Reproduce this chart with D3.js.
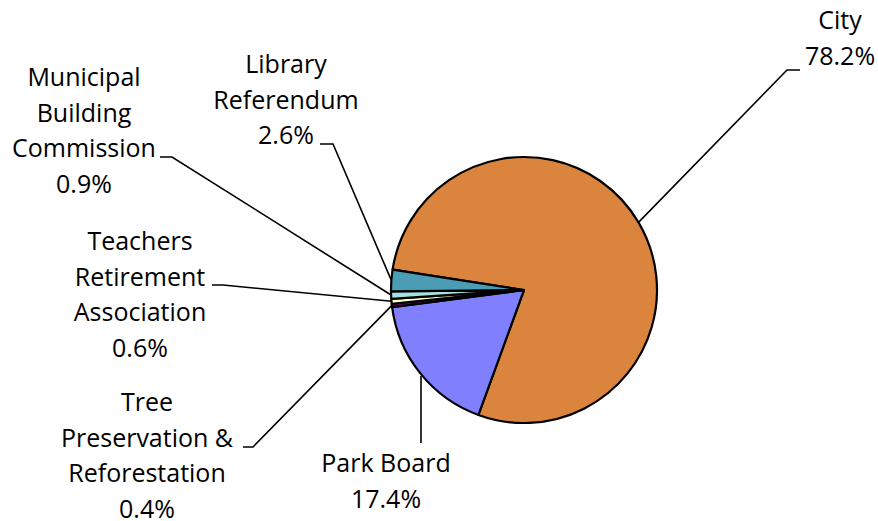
<!DOCTYPE html>
<html>
<head>
<meta charset="utf-8">
<script src="https://cdn.jsdelivr.net/npm/d3@7/dist/d3.min.js"></script>
<style>
  html, body { margin: 0; padding: 0; background: #fff; }
  svg { display: block; }
  text { font-family: "Open Sans", Lato, sans-serif; font-size: 25px; fill: #000; }
</style>
</head>
<body>
<svg id="chart" width="878" height="521"></svg>
<script>
// Budget share by fund (percent)
const categories = ["City", "Park Board", "Tree Preservation & Reforestation",
  "Teachers Retirement Association", "Municipal Building Commission", "Library Referendum"];
const shares = [78.2, 17.4, 0.4, 0.6, 0.9, 2.6];
const labelLines = [
  ["City"],
  ["Park Board"],
  ["Tree", "Preservation &", "Reforestation"],
  ["Teachers", "Retirement", "Association"],
  ["Municipal", "Building", "Commission"],
  ["Library", "Referendum"]
];
const colors = ["#DA843E", "#8080FF", "#660066", "#FFFFC8", "#A6E2E2", "#4A9DB3"];

// Label placement: centre x, first baseline, and the leader's elbow / end points
const labelLayout = [
  { x: 840, y: 29,  elbow: [787, 70],  end: [800, 70] },
  { x: 386, y: 472, elbow: null,       end: [421, 443] },
  { x: 147, y: 411, elbow: [253, 447], end: [243, 447] },
  { x: 140, y: 250, elbow: [223, 285], end: [212, 285] },
  { x: 84,  y: 86,  elbow: [172, 157], end: [160, 157] },
  { x: 286, y: 73,  elbow: [333, 144], end: [320, 144] }
];

const cx = 524, cy = 290, radius = 133, lineH = 35.5;
const deg = Math.PI / 180;
const startAngle = 278.8 * deg;

const svg = d3.select("#chart");
const rows = categories.map((c, i) => ({ name: c, value: shares[i], i }));

const pie = d3.pie().sort(null).value(d => d.value)
  .startAngle(startAngle).endAngle(startAngle + 2 * Math.PI);
const arcs = pie(rows);
const arc = d3.arc().innerRadius(0).outerRadius(radius);

const g = svg.append("g").attr("transform", `translate(${cx},${cy})`);
g.selectAll("path.slice").data(arcs).join("path")
  .attr("class", "slice")
  .attr("d", arc)
  .attr("fill", d => colors[d.data.i])
  .attr("stroke", "#000")
  .attr("stroke-width", 2.2)
  .attr("stroke-linejoin", "round");

// Leader lines start on the rim at each slice's mid angle
const leaders = svg.append("g").attr("fill", "none").attr("stroke", "#000").attr("stroke-width", 1.6);
arcs.forEach(d => {
  const a = (d.startAngle + d.endAngle) / 2;
  const p0 = [cx + radius * Math.sin(a), cy - radius * Math.cos(a)];
  const L = labelLayout[d.data.i];
  const pts = L.elbow ? [p0, L.elbow, L.end] : [[L.end[0], p0[1] + 3], L.end];
  leaders.append("path").attr("d", d3.line()(pts));
});

// Category name lines followed by the percentage
arcs.forEach(d => {
  const L = labelLayout[d.data.i];
  const lines = labelLines[d.data.i].concat([d3.format(".1f")(d.data.value) + "%"]);
  const t = svg.append("text").attr("text-anchor", "middle");
  lines.forEach((s, k) => {
    t.append("tspan").attr("x", L.x).attr("y", L.y + k * lineH).text(s);
  });
});
</script>
</body>
</html>
